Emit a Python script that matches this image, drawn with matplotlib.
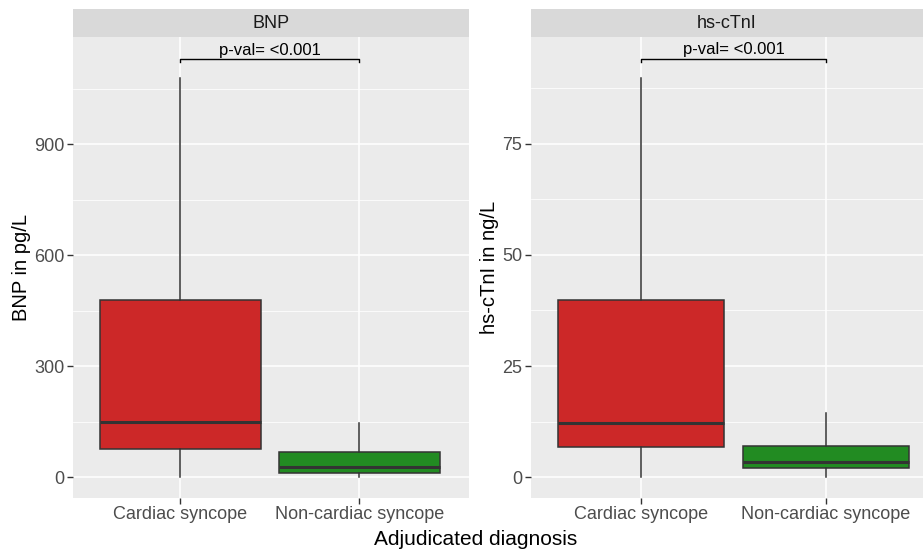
import numpy as np
import matplotlib.pyplot as plt

plt.rcParams['font.family'] = ['Liberation Sans', 'DejaVu Sans']

groups = ['Cardiac syncope', 'Non-cardiac syncope']
box_colors = ['#CC2828', '#228B22']

# BNP (pg/L): whisker low, q1, median, q3, whisker high
bnp_low = [0, 1]
bnp_q1 = [77, 12]
bnp_med = [149, 29]
bnp_q3 = [478, 68]
bnp_high = [1079, 148]

# hs-cTnI (ng/L)
tni_low = [0, 0]
tni_q1 = [6.7, 2.0]
tni_med = [12.1, 3.4]
tni_q3 = [39.8, 7.0]
tni_high = [89.7, 14.4]

pval_text = 'p-val= <0.001'


def make_stats(lo, q1, med, q3, hi):
    out = []
    for i in range(len(lo)):
        out.append(dict(whislo=lo[i], q1=q1[i], med=med[i], q3=q3[i],
                        whishi=hi[i], fliers=[], label=groups[i]))
    return out


def panel(ax, sax, stats, name, ylabel, ylim, yticks, yminor, xlim, bracket):
    ax.set_facecolor('#EBEBEB')
    for s in ax.spines.values():
        s.set_visible(False)
    ax.set_axisbelow(True)
    ax.set_yticks(yminor, minor=True)
    ax.grid(which='major', color='white', lw=1.1)
    ax.grid(which='minor', axis='y', color='white', lw=0.55)

    bp = ax.bxp(stats, positions=[1, 2], widths=0.9, patch_artist=True,
                showfliers=False, showcaps=False,
                boxprops=dict(edgecolor='#333333', lw=1.1),
                whiskerprops=dict(color='#333333', lw=1.1),
                medianprops=dict(color='#333333', lw=2.2))
    for patch, c in zip(bp['boxes'], box_colors):
        patch.set_facecolor(c)

    ax.set_xlim(*xlim)
    ax.set_ylim(*ylim)
    ax.set_yticks(yticks)
    ax.set_yticklabels([str(t) for t in yticks])
    ax.set_xticks([1, 2])
    ax.set_xticklabels(groups)
    ax.tick_params(axis='both', which='major', colors='#333333', length=4,
                   width=1, labelsize=13, labelcolor='#4D4D4D', pad=2)
    ax.tick_params(which='minor', length=0)
    ax.set_ylabel(ylabel, fontsize=14.5, color='black', labelpad=2)

    # significance bracket
    yb, drop = bracket
    ax.plot([1, 1, 2, 2], [yb - drop, yb, yb, yb - drop], color='black',
            lw=1.0, clip_on=False)
    ax.text(1.5, yb + drop * 0.4, pval_text, ha='center', va='bottom',
            fontsize=12)

    sax.set_facecolor('#D9D9D9')
    sax.set_xticks([])
    sax.set_yticks([])
    for s in sax.spines.values():
        s.set_visible(False)
    sax.text(0.5, 0.48, name, ha='center', va='center', fontsize=13,
             color='#1A1A1A', transform=sax.transAxes)


fig = plt.figure(figsize=(9.23, 5.51), dpi=100)

ax1 = fig.add_axes([0.0788, 0.0962, 0.429, 0.8372])
s1 = fig.add_axes([0.0788, 0.9334, 0.429, 0.0497])
ax2 = fig.add_axes([0.575, 0.0962, 0.425, 0.8372])
s2 = fig.add_axes([0.575, 0.9334, 0.425, 0.0497])

panel(ax1, s1, make_stats(bnp_low, bnp_q1, bnp_med, bnp_q3, bnp_high),
      'BNP', 'BNP in pg/L', (-55.6, 1190), [0, 300, 600, 900],
      [150, 450, 750, 1050], (0.4, 2.61), (1130, 9))
panel(ax2, s2, make_stats(tni_low, tni_q1, tni_med, tni_q3, tni_high),
      'hs-cTnI', 'hs-cTnI in ng/L', (-4.65, 99.0), [0, 25, 50, 75],
      [12.5, 37.5, 62.5, 87.5], (0.4, 2.526), (94.1, 0.75))

fig.text(0.515, 0.003, 'Adjudicated diagnosis', ha='center', va='bottom',
         fontsize=15, color='black')

fig.savefig('out.png', dpi=100)
